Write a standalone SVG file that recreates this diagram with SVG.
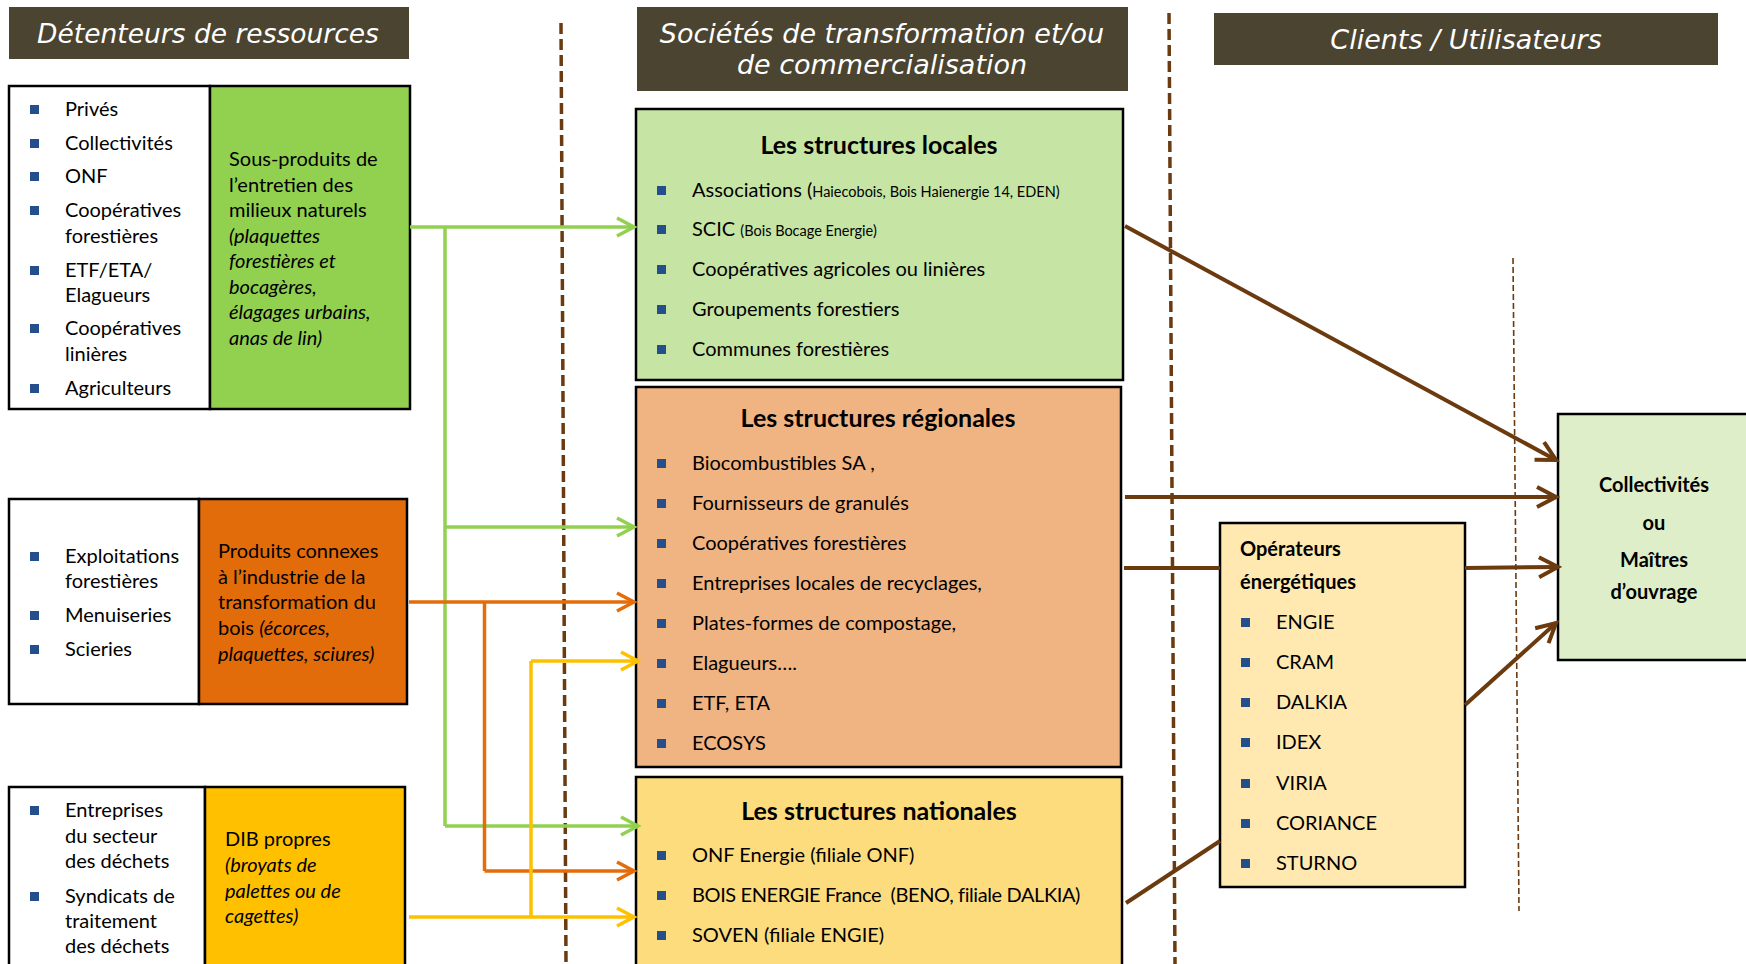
<svg xmlns="http://www.w3.org/2000/svg" width="1746" height="964" viewBox="0 0 1746 964">
<style>
.hdr{fill:#4B4430}
.ht{font-family:"DejaVu Sans",Verdana,sans-serif;font-style:italic;font-size:27px;fill:#FFFFFF;text-anchor:middle}
.box{stroke:#000;stroke-width:2.5}
.t{font-family:Lato,"Liberation Sans",Arial,sans-serif;font-size:20px;fill:#000}
.s{font-size:14.5px}
.i{font-style:italic}
.b{font-weight:bold}
.ttl{font-family:Lato,"Liberation Sans",Arial,sans-serif;font-weight:bold;font-size:25px;fill:#000;text-anchor:middle}
.c{text-anchor:middle}
.bu{fill:#254F8C}
.dash{fill:none;stroke:#6B3A0E;stroke-width:3.5;stroke-dasharray:11 5}
.dthin{fill:none;stroke:#6B3A0E;stroke-width:1.6;stroke-dasharray:6 3}
.g{fill:none;stroke:#92D050;stroke-width:3.5}
.o{fill:none;stroke:#E46C0A;stroke-width:3.5}
.y{fill:none;stroke:#FFC000;stroke-width:3.5}
.br{fill:none;stroke:#6B3A0E;stroke-width:4}
</style>
<defs>
<marker id="mg" viewBox="-22 -12 26 24" markerWidth="26" markerHeight="24" refX="0" refY="0" orient="auto" markerUnits="userSpaceOnUse"><path d="M-17,-9 L0,0 L-17,9" fill="none" stroke="#92D050" stroke-width="3.5"/></marker>
<marker id="mo" viewBox="-22 -12 26 24" markerWidth="26" markerHeight="24" refX="0" refY="0" orient="auto" markerUnits="userSpaceOnUse"><path d="M-17,-9 L0,0 L-17,9" fill="none" stroke="#E46C0A" stroke-width="3.5"/></marker>
<marker id="my" viewBox="-22 -12 26 24" markerWidth="26" markerHeight="24" refX="0" refY="0" orient="auto" markerUnits="userSpaceOnUse"><path d="M-17,-9 L0,0 L-17,9" fill="none" stroke="#FFC000" stroke-width="3.5"/></marker>
<marker id="mb" viewBox="-24 -13 28 26" markerWidth="28" markerHeight="26" refX="0" refY="0" orient="auto" markerUnits="userSpaceOnUse"><path d="M-19,-10 L0,0 L-19,10" fill="none" stroke="#6B3A0E" stroke-width="4"/></marker>
</defs>
<rect width="1746" height="964" fill="#FFFFFF"/>

<!-- Headers -->
<g id="header-detenteurs">
<rect class="hdr" x="9" y="7" width="400" height="52"/>
<text class="ht" x="208" y="43" style="font-size:26.5px">Détenteurs de ressources</text>
</g>
<g id="header-societes">
<rect class="hdr" x="637" y="7" width="491" height="84"/>
<text class="ht" x="882" y="43">Sociétés de transformation et/ou</text>
<text class="ht" x="882" y="74">de commercialisation</text>
</g>
<g id="header-clients">
<rect class="hdr" x="1214" y="13" width="504" height="52"/>
<text class="ht" x="1466" y="49">Clients / Utilisateurs</text>
</g>

<!-- Separators -->
<g id="separators">
<line class="dash" x1="561" y1="23" x2="566" y2="964"/>
<line class="dash" x1="1169" y1="13" x2="1175" y2="964"/>
<line class="dthin" x1="1513" y1="258" x2="1519" y2="911"/>
</g>

<!-- Source A -->
<g id="source-milieux">
<rect class="box" x="9" y="86" width="201" height="323" fill="#FFFFFF"/>
<rect class="box" x="210" y="86" width="200" height="323" fill="#92D050"/>
<rect class="bu" x="30" y="105" width="9" height="9"/>
<rect class="bu" x="30" y="139" width="9" height="9"/>
<rect class="bu" x="30" y="172" width="9" height="9"/>
<rect class="bu" x="30" y="206" width="9" height="9"/>
<rect class="bu" x="30" y="266" width="9" height="9"/>
<rect class="bu" x="30" y="324" width="9" height="9"/>
<rect class="bu" x="30" y="384" width="9" height="9"/>
<text class="t" x="65" y="116">Privés</text>
<text class="t" x="65" y="150">Collectivités</text>
<text class="t" x="65" y="183">ONF</text>
<text class="t" x="65" y="217">Coopératives</text>
<text class="t" x="65" y="243">forestières</text>
<text class="t" x="65" y="277">ETF/ETA/</text>
<text class="t" x="65" y="302">Elagueurs</text>
<text class="t" x="65" y="335">Coopératives</text>
<text class="t" x="65" y="361">linières</text>
<text class="t" x="65" y="395">Agriculteurs</text>
<text class="t" x="229" y="166">Sous-produits de</text>
<text class="t" x="229" y="191.5">l’entretien des</text>
<text class="t" x="229" y="217">milieux naturels</text>
<text class="t i" x="229" y="242.5">(plaquettes</text>
<text class="t i" x="229" y="268">forestières et</text>
<text class="t i" x="229" y="293.5">bocagères,</text>
<text class="t i" x="229" y="319">élagages urbains,</text>
<text class="t i" x="229" y="344.5">anas de lin)</text>
</g>

<!-- Source B -->
<g id="source-industrie">
<rect class="box" x="9" y="499" width="190" height="205" fill="#FFFFFF"/>
<rect class="box" x="199" y="499" width="208" height="205" fill="#E36C0A"/>
<rect class="bu" x="30" y="552" width="9" height="9"/>
<rect class="bu" x="30" y="611" width="9" height="9"/>
<rect class="bu" x="30" y="645" width="9" height="9"/>
<text class="t" x="65" y="563">Exploitations</text>
<text class="t" x="65" y="588">forestières</text>
<text class="t" x="65" y="622">Menuiseries</text>
<text class="t" x="65" y="656">Scieries</text>
<text class="t" x="218" y="558">Produits connexes</text>
<text class="t" x="218" y="584">à l’industrie de la</text>
<text class="t" x="218" y="609">transformation du</text>
<text class="t" x="218" y="635">bois <tspan class="i">(écorces,</tspan></text>
<text class="t i" x="218" y="661">plaquettes, sciures)</text>
</g>

<!-- Source C -->
<g id="source-dechets">
<rect class="box" x="9" y="787" width="196" height="185" fill="#FFFFFF"/>
<rect class="box" x="205" y="787" width="200" height="185" fill="#FFC000"/>
<rect class="bu" x="30" y="806" width="9" height="9"/>
<rect class="bu" x="30" y="892" width="9" height="9"/>
<text class="t" x="65" y="817">Entreprises</text>
<text class="t" x="65" y="843">du secteur</text>
<text class="t" x="65" y="868">des déchets</text>
<text class="t" x="65" y="903">Syndicats de</text>
<text class="t" x="65" y="928">traitement</text>
<text class="t" x="65" y="953">des déchets</text>
<text class="t" x="225" y="846">DIB propres</text>
<text class="t i" x="225" y="872">(broyats de</text>
<text class="t i" x="225" y="898">palettes ou de</text>
<text class="t i" x="225" y="923">cagettes)</text>
</g>

<!-- Locales -->
<g id="structures-locales">
<rect class="box" x="636" y="109" width="487" height="271" fill="#C6E5A4"/>
<text class="ttl" x="879" y="154">Les structures locales</text>
<rect class="bu" x="657" y="186" width="9" height="9"/>
<rect class="bu" x="657" y="225" width="9" height="9"/>
<rect class="bu" x="657" y="265" width="9" height="9"/>
<rect class="bu" x="657" y="305" width="9" height="9"/>
<rect class="bu" x="657" y="345" width="9" height="9"/>
<text class="t" x="692" y="197">Associations (<tspan class="s">Haiecobois, Bois Haienergie 14, EDEN)</tspan></text>
<text class="t" x="692" y="236">SCIC <tspan class="s">(Bois Bocage Energie)</tspan></text>
<text class="t" x="692" y="276">Coopératives agricoles ou linières</text>
<text class="t" x="692" y="316">Groupements forestiers</text>
<text class="t" x="692" y="356">Communes forestières</text>
</g>

<!-- Regionales -->
<g id="structures-regionales">
<rect class="box" x="636" y="387" width="485" height="380" fill="#F0B482"/>
<text class="ttl" x="878" y="427">Les structures régionales</text>
<rect class="bu" x="657" y="459" width="9" height="9"/>
<rect class="bu" x="657" y="499" width="9" height="9"/>
<rect class="bu" x="657" y="539" width="9" height="9"/>
<rect class="bu" x="657" y="579" width="9" height="9"/>
<rect class="bu" x="657" y="619" width="9" height="9"/>
<rect class="bu" x="657" y="659" width="9" height="9"/>
<rect class="bu" x="657" y="699" width="9" height="9"/>
<rect class="bu" x="657" y="739" width="9" height="9"/>
<text class="t" x="692" y="470">Biocombustibles SA ,</text>
<text class="t" x="692" y="510">Fournisseurs de granulés</text>
<text class="t" x="692" y="550">Coopératives forestières</text>
<text class="t" x="692" y="590">Entreprises locales de recyclages,</text>
<text class="t" x="692" y="630">Plates-formes de compostage,</text>
<text class="t" x="692" y="670">Elagueurs….</text>
<text class="t" x="692" y="710">ETF, ETA</text>
<text class="t" x="692" y="750">ECOSYS</text>
</g>

<!-- Nationales -->
<g id="structures-nationales">
<rect class="box" x="636" y="777" width="486" height="195" fill="#FDDC7E"/>
<text class="ttl" x="879" y="820">Les structures nationales</text>
<rect class="bu" x="657" y="851" width="9" height="9"/>
<rect class="bu" x="657" y="891" width="9" height="9"/>
<rect class="bu" x="657" y="931" width="9" height="9"/>
<text class="t" x="692" y="862">ONF Energie (filiale ONF)</text>
<text class="t" x="692" y="902" xml:space="preserve" style="letter-spacing:-0.4px">BOIS ENERGIE France  (BENO, filiale DALKIA)</text>
<text class="t" x="692" y="942">SOVEN (filiale ENGIE)</text>
</g>

<!-- Operateurs -->
<g id="operateurs">
<rect class="box" x="1220" y="523" width="245" height="364" fill="#FFE9B1"/>
<text class="t b" x="1240" y="556">Opérateurs</text>
<text class="t b" x="1240" y="589">énergétiques</text>
<rect class="bu" x="1241" y="618" width="9" height="9"/>
<rect class="bu" x="1241" y="658" width="9" height="9"/>
<rect class="bu" x="1241" y="698" width="9" height="9"/>
<rect class="bu" x="1241" y="738" width="9" height="9"/>
<rect class="bu" x="1241" y="779" width="9" height="9"/>
<rect class="bu" x="1241" y="819" width="9" height="9"/>
<rect class="bu" x="1241" y="859" width="9" height="9"/>
<text class="t" x="1276" y="629">ENGIE</text>
<text class="t" x="1276" y="669">CRAM</text>
<text class="t" x="1276" y="709">DALKIA</text>
<text class="t" x="1276" y="749">IDEX</text>
<text class="t" x="1276" y="790">VIRIA</text>
<text class="t" x="1276" y="830">CORIANCE</text>
<text class="t" x="1276" y="870">STURNO</text>
</g>

<!-- Collectivites -->
<g id="collectivites">
<rect class="box" x="1558" y="414" width="200" height="246" fill="#DDEEC9"/>
<text class="t b c" x="1654" y="492">Collectivités</text>
<text class="t b c" x="1654" y="530">ou</text>
<text class="t b c" x="1654" y="567">Maîtres</text>
<text class="t b c" x="1654" y="599">d’ouvrage</text>
</g>

<!-- Connectors -->
<g id="connectors">
<path class="g" d="M410,227 H634" marker-end="url(#mg)"/>
<path class="g" d="M445,227 V826"/>
<path class="g" d="M445,527 H634" marker-end="url(#mg)"/>
<path class="g" d="M445,826 H638" marker-end="url(#mg)"/>
<path class="o" d="M409,602 H634" marker-end="url(#mo)"/>
<path class="o" d="M484.5,602 V871"/>
<path class="o" d="M484.5,871 H634" marker-end="url(#mo)"/>
<path class="y" d="M409,917 H634" marker-end="url(#my)"/>
<path class="y" d="M531,917 V661"/>
<path class="y" d="M531,661 H638" marker-end="url(#my)"/>
<path class="br" d="M1125,226 L1556,460" marker-end="url(#mb)"/>
<path class="br" d="M1125,497 H1556" marker-end="url(#mb)"/>
<path class="br" d="M1124,568 H1220"/>
<path class="br" d="M1465,568 L1558,567" marker-end="url(#mb)"/>
<path class="br" d="M1126,903 L1220,841"/>
<path class="br" d="M1465,705 L1556,623" marker-end="url(#mb)"/>
</g>
</svg>
